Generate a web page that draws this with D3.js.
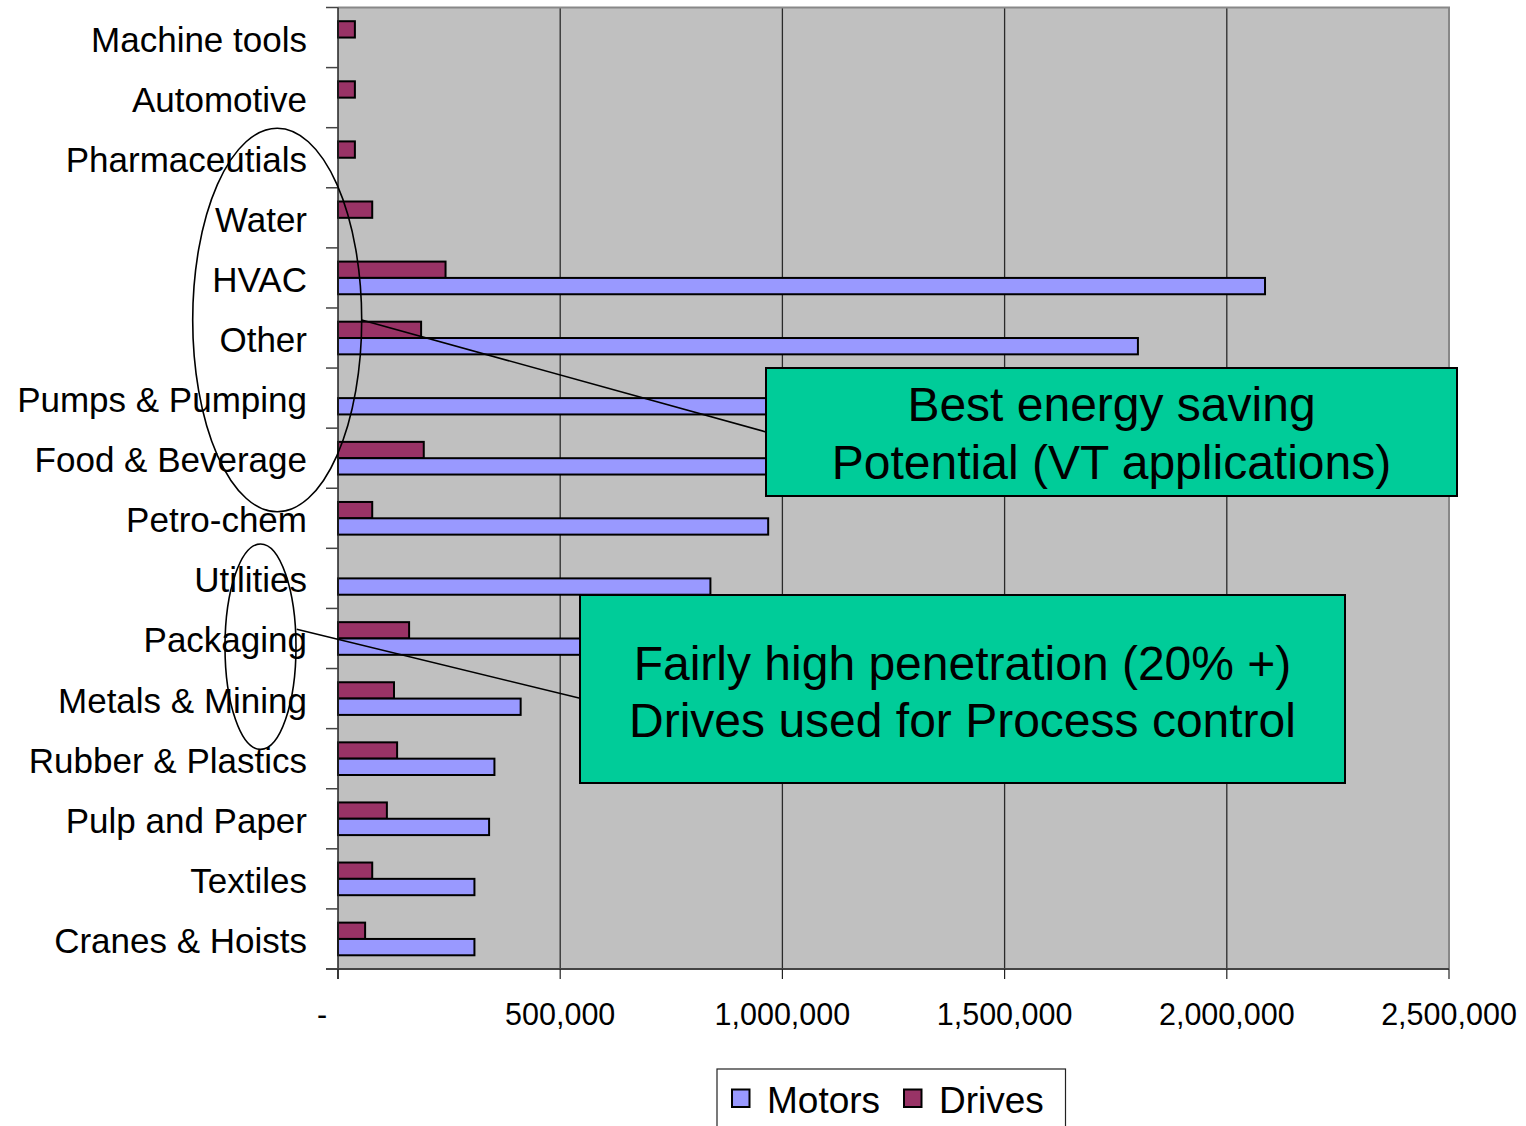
<!DOCTYPE html>
<html><head><meta charset="utf-8">
<script src="https://cdn.jsdelivr.net/npm/d3@7"></script>
<style>body{margin:0;background:#fff}svg{display:block;font-family:"Liberation Sans",Arial,sans-serif}</style>
</head><body><div id="chart"></div>
<script>
const categories = ["Machine tools","Automotive","Pharmaceutials","Water","HVAC","Other","Pumps & Pumping","Food & Beverage","Petro-chem","Utilities","Packaging","Metals & Mining","Rubber & Plastics","Pulp and Paper","Textiles","Cranes & Hoists"];
const motors = [0,0,0,0,2086000,1800000,1200000,1100000,968000,838000,545000,411000,352000,340000,307000,307000];
const drives = [38000,38000,38000,77000,242000,187000,0,193000,77000,0,160000,126000,133000,110000,77000,61000];
const series = ["Drives","Motors"];
const colors = {Motors:"#9999FF", Drives:"#993366"};
const xTicks = [0,500000,1000000,1500000,2000000,2500000];
const legendItems = ["Motors","Drives"];
const notes = [
  {lines:["Best energy saving","Potential (VT applications)"]},
  {lines:["Fairly high penetration (20% +)","Drives used for Process control"]}
];

const W=1526,H=1126;
const svg=d3.select("#chart").append("svg").attr("width",W).attr("height",H);
const L=338,R=1449,T=7.5,B=969;
const x=d3.scaleLinear().domain([0,2500000]).range([L,R]);
const y=d3.scaleBand().domain(categories).range([T,B]).padding(0);
const sub=d3.scaleBand().domain(series).range([0,y.bandwidth()]).paddingInner(0).paddingOuter(0.84);

svg.append("rect").attr("x",L).attr("y",T).attr("width",R-L).attr("height",B-T).attr("fill","#C0C0C0");
svg.append("g").selectAll("line").data(xTicks.slice(1,-1)).join("line")
  .attr("x1",d=>x(d)).attr("x2",d=>x(d)).attr("y1",T).attr("y2",B).attr("stroke","#2a2a2a").attr("stroke-width",1.3);
svg.append("path").attr("d",`M${L},${T}H${R}V${B}`).attr("fill","none").attr("stroke","#888").attr("stroke-width",2);

const rows=categories.map((c,i)=>({c,Motors:motors[i],Drives:drives[i]}));
const g=svg.append("g");
rows.forEach(r=>{
  series.forEach(s=>{
    if(r[s]<=0) return;
    g.append("rect").attr("x",x(0)).attr("y",y(r.c)+sub(s))
      .attr("width",x(r[s])-x(0)).attr("height",sub.bandwidth())
      .attr("fill",colors[s]).attr("stroke","#000").attr("stroke-width",2);
  });
});

svg.append("line").attr("x1",L).attr("x2",L).attr("y1",T).attr("y2",B+10).attr("stroke","#222").attr("stroke-width",1.5);
svg.append("line").attr("x1",326).attr("x2",R).attr("y1",B).attr("y2",B).attr("stroke","#444").attr("stroke-width",2);
const bounds=categories.map(c=>y(c));
svg.append("g").selectAll("line").data(bounds).join("line")
  .attr("x1",326).attr("x2",L).attr("y1",d=>d).attr("y2",d=>d).attr("stroke","#444").attr("stroke-width",1.5);
svg.append("g").selectAll("line").data(xTicks).join("line")
  .attr("x1",d=>x(d)).attr("x2",d=>x(d)).attr("y1",B).attr("y2",B+10).attr("stroke","#222").attr("stroke-width",1.2);
const fmt=d3.format(",");
svg.append("g").selectAll("text").data(xTicks).join("text")
  .attr("x",d=>d===0?322:x(d)).attr("y",1025).attr("text-anchor","middle")
  .attr("font-size",30.5).attr("fill","#000").text(d=>d===0?"-":fmt(d));
svg.append("g").selectAll("text").data(categories).join("text")
  .attr("x",307).attr("y",d=>y(d)+y.bandwidth()/2+14).attr("text-anchor","end")
  .attr("font-size",35).attr("fill","#000").text(d=>d);

svg.append("ellipse").attr("cx",277.2).attr("cy",320).attr("rx",84.5).attr("ry",191.7)
  .attr("fill","none").attr("stroke","#000").attr("stroke-width",1.6);
svg.append("ellipse").attr("cx",260.5).attr("cy",646.7).attr("rx",35.5).attr("ry",102.7)
  .attr("fill","none").attr("stroke","#000").attr("stroke-width",1.6);
svg.append("line").attr("x1",361.7).attr("y1",320).attr("x2",766).attr("y2",432).attr("stroke","#000").attr("stroke-width",1.6);
svg.append("line").attr("x1",296.7).attr("y1",629.3).attr("x2",580).attr("y2",698.3).attr("stroke","#000").attr("stroke-width",1.6);

const boxes=[{x0:766,y0:368,x1:1457,y1:496,base:[421,478.5],fs:48},{x0:580,y0:595,x1:1345,y1:783,base:[680,737],fs:48}];
boxes.forEach((b,i)=>{
  svg.append("rect").attr("x",b.x0).attr("y",b.y0).attr("width",b.x1-b.x0).attr("height",b.y1-b.y0)
    .attr("fill","#00CC99").attr("stroke","#000").attr("stroke-width",2);
  notes[i].lines.forEach((t,j)=>{
    svg.append("text").attr("x",(b.x0+b.x1)/2).attr("y",b.base[j]).attr("text-anchor","middle")
      .attr("font-size",b.fs).attr("fill","#000").text(t);
  });
});

svg.append("rect").attr("x",717).attr("y",1069).attr("width",348.5).attr("height",80)
  .attr("fill","#fff").attr("stroke","#222").attr("stroke-width",1.2);
const lx=[732,904];
legendItems.forEach((s,i)=>{
  svg.append("rect").attr("x",lx[i]).attr("y",1089.5).attr("width",17.5).attr("height",17.5)
    .attr("fill",colors[s]).attr("stroke","#000").attr("stroke-width",2);
  svg.append("text").attr("x",lx[i]+35).attr("y",1113).attr("font-size",37).attr("fill","#000").text(s);
});
</script></body></html>
